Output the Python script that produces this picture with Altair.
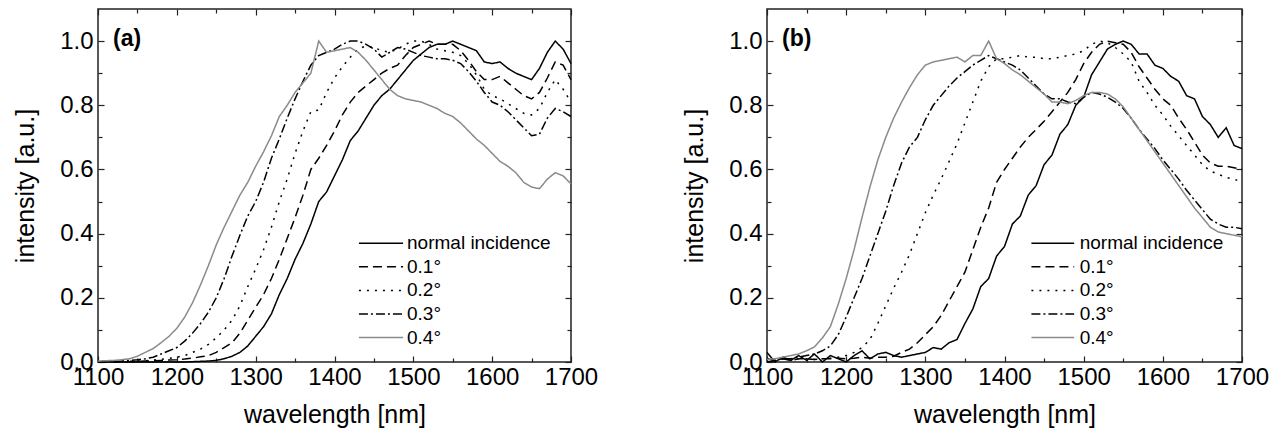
import altair as alt
import pandas as pd

WAVELENGTH = list(range(1100, 1701, 10))
SERIES = ["normal incidence", "0.1°", "0.2°", "0.3°", "0.4°"]

# ---------- panel (a) ----------
A_NORMAL = [0, 0, 0, 0, 0,
            0, 0, 0, 0, 0,
            0, 0, 0.001, 0.002, 0.003,
            0.005, 0.01, 0.018, 0.03, 0.05,
            0.08, 0.11, 0.15, 0.21, 0.26,
            0.32, 0.37, 0.43, 0.50, 0.53,
            0.58, 0.63, 0.69, 0.72, 0.76,
            0.80, 0.83, 0.85, 0.88, 0.91,
            0.94, 0.96, 0.98, 0.99, 0.99,
            1.00, 0.99, 0.98, 0.97, 0.935,
            0.93, 0.935, 0.915, 0.90, 0.89,
            0.88, 0.915, 0.965, 1.00, 0.975,
            0.93]
A_01 = [0, 0, 0, 0, 0.001,
        0.002, 0.003, 0.004, 0.005, 0.006,
        0.007, 0.009, 0.012, 0.016, 0.02,
        0.03, 0.045, 0.06, 0.09, 0.13,
        0.17, 0.21, 0.26, 0.32, 0.385,
        0.45, 0.52, 0.60, 0.635, 0.675,
        0.72, 0.77, 0.81, 0.84, 0.86,
        0.88, 0.90, 0.915, 0.925, 0.955,
        0.98, 0.99, 1.0, 0.99, 0.99,
        0.99, 0.97, 0.94, 0.905, 0.88,
        0.88, 0.89, 0.87, 0.85, 0.83,
        0.82, 0.84, 0.885, 0.935, 0.925,
        0.88]
A_02 = [0, 0, 0, 0.001, 0.002,
        0.003, 0.004, 0.006, 0.008, 0.011,
        0.015, 0.02, 0.03, 0.04, 0.055,
        0.075, 0.10, 0.13, 0.175, 0.235,
        0.29, 0.35, 0.42, 0.50, 0.57,
        0.65, 0.72, 0.78, 0.785, 0.84,
        0.885, 0.92, 0.95, 0.975, 0.985,
        0.98, 0.97, 0.965, 0.975, 0.99,
        1.0, 1.0, 0.99, 0.975, 0.97,
        0.965, 0.955, 0.93, 0.895, 0.85,
        0.83, 0.82, 0.805, 0.79, 0.775,
        0.77, 0.79, 0.84, 0.88, 0.85,
        0.81]
A_03 = [0, 0.001, 0.002, 0.003, 0.005,
        0.007, 0.01, 0.015, 0.025, 0.035,
        0.045, 0.065, 0.09, 0.12, 0.155,
        0.20, 0.26, 0.33, 0.395, 0.455,
        0.50, 0.56, 0.635, 0.695, 0.76,
        0.82, 0.875, 0.925, 0.955, 0.965,
        0.975, 0.99, 1.0, 1.0, 0.99,
        0.975, 0.95, 0.965, 0.98, 0.975,
        0.965, 0.955, 0.95, 0.945, 0.945,
        0.94, 0.93, 0.905, 0.875, 0.84,
        0.81, 0.80, 0.78, 0.755, 0.73,
        0.705, 0.71, 0.76, 0.79, 0.78,
        0.765]
A_04 = [0.003, 0.004, 0.005, 0.007, 0.01,
        0.018, 0.03, 0.042, 0.06, 0.08,
        0.105, 0.14, 0.185, 0.24, 0.30,
        0.365, 0.42, 0.47, 0.52, 0.56,
        0.61, 0.655, 0.705, 0.765, 0.80,
        0.84, 0.87, 0.90, 1.0, 0.965,
        0.97, 0.975, 0.98, 0.965, 0.94,
        0.91, 0.88, 0.85, 0.83, 0.82,
        0.815, 0.81, 0.80, 0.79, 0.775,
        0.765, 0.745, 0.72, 0.695, 0.675,
        0.65, 0.625, 0.61, 0.59, 0.56,
        0.545, 0.54, 0.57, 0.59, 0.58,
        0.555]

# ---------- panel (b) ----------
B_NORMAL = [0.03, 0.0, 0.015, 0.005, 0.02,
            0.005, 0.025, 0.0, 0.02, 0.01,
            0.0, 0.02, 0.035, 0.01, 0.025,
            0.03, 0.02, 0.015, 0.02, 0.025,
            0.03, 0.045, 0.04, 0.06, 0.07,
            0.12, 0.165, 0.235, 0.26, 0.33,
            0.36, 0.43, 0.455, 0.52, 0.55,
            0.615, 0.645, 0.71, 0.74, 0.80,
            0.825, 0.895, 0.935, 0.975, 0.99,
            1.0, 0.99, 0.96, 0.96, 0.925,
            0.915, 0.89, 0.875, 0.83, 0.82,
            0.765, 0.74, 0.70, 0.73, 0.675,
            0.665]
B_01 = [0.01, 0.005, 0.01, 0.005, 0.01,
        0.01, 0.008, 0.01, 0.01, 0.012,
        0.01, 0.012, 0.015, 0.012, 0.015,
        0.015, 0.018, 0.03, 0.04, 0.06,
        0.085, 0.11, 0.145, 0.19, 0.235,
        0.28, 0.35, 0.42, 0.48, 0.56,
        0.60, 0.635, 0.67, 0.70, 0.725,
        0.75, 0.78, 0.81, 0.84, 0.88,
        0.93, 0.965, 0.99, 1.0, 0.995,
        0.99, 0.965, 0.92, 0.885, 0.85,
        0.82, 0.80, 0.76, 0.725, 0.685,
        0.645, 0.62, 0.61, 0.61, 0.605,
        0.60]
B_02 = [0.01, 0.0, 0.01, 0.005, 0.01,
        0.01, 0.008, 0.01, 0.012, 0.015,
        0.02, 0.03, 0.045, 0.07, 0.12,
        0.175, 0.23, 0.28, 0.335, 0.40,
        0.465, 0.52, 0.57, 0.625, 0.68,
        0.745, 0.81, 0.875, 0.92, 0.945,
        0.945, 0.95, 0.955, 0.95, 0.95,
        0.945, 0.945, 0.95, 0.955, 0.96,
        0.97, 0.99, 1.0, 0.995, 0.98,
        0.96, 0.935, 0.875, 0.84, 0.80,
        0.77, 0.735, 0.705, 0.675, 0.645,
        0.615, 0.595, 0.585, 0.575, 0.57,
        0.56]
B_03 = [0.0, 0.005, 0.01, 0.01, 0.015,
        0.02, 0.025, 0.035, 0.05, 0.085,
        0.14, 0.20, 0.26, 0.33, 0.40,
        0.47, 0.55, 0.62, 0.67, 0.70,
        0.755, 0.80, 0.83, 0.86, 0.885,
        0.905, 0.925, 0.94, 0.955, 0.945,
        0.935, 0.925, 0.91, 0.885, 0.86,
        0.835, 0.82, 0.82, 0.81, 0.805,
        0.825, 0.84, 0.835, 0.825, 0.81,
        0.79, 0.76, 0.725, 0.695, 0.665,
        0.63, 0.60, 0.57, 0.535, 0.505,
        0.475, 0.445, 0.43, 0.42, 0.42,
        0.415]
B_04 = [0.008, 0.01, 0.015, 0.02, 0.025,
        0.035, 0.047, 0.075, 0.11, 0.18,
        0.26, 0.35, 0.45, 0.545, 0.63,
        0.70, 0.76, 0.81, 0.855, 0.895,
        0.925, 0.935, 0.94, 0.945, 0.95,
        0.935, 0.955, 0.955, 1.0, 0.945,
        0.93, 0.91, 0.895, 0.875, 0.855,
        0.835, 0.81, 0.81, 0.805, 0.815,
        0.83, 0.84, 0.84, 0.835, 0.82,
        0.795, 0.76, 0.725, 0.69, 0.655,
        0.62, 0.585, 0.55, 0.515, 0.48,
        0.45, 0.42, 0.405, 0.40, 0.395,
        0.39]

X_TICKS = [1100, 1200, 1300, 1400, 1500, 1600, 1700]
X_MINOR = [1150, 1250, 1350, 1450, 1550, 1650]
Y_TICKS = [0.0, 0.2, 0.4, 0.6, 0.8, 1.0]
Y_MINOR = [0.1, 0.3, 0.5, 0.7, 0.9]

# ---------- style ----------
FONT = "Liberation Sans"
H = 353
GRAY = "#8a8a8a"
COLORS = ["black", "black", "black", "black", GRAY]
DASHES = [[1, 0], [9, 5], [2, 6], [9, 3, 2, 3], [1, 0]]
FRAME = "#222222"


def panel(arrays, label, width, leg_x1, leg_x2, leg_xt):
    rows = []
    for s, vals in zip(SERIES, arrays):
        for w, v in zip(WAVELENGTH, vals):
            rows.append({"wl": w, "val": v, "series": s})
    df = pd.DataFrame(rows)

    xs = alt.Scale(domain=[1100, 1700], nice=False, zero=False)
    ys = alt.Scale(domain=[0, 1.1], nice=False)
    col = alt.Scale(domain=SERIES, range=COLORS)
    dash = alt.Scale(domain=SERIES, range=DASHES)

    lines = alt.Chart(df).mark_line(strokeWidth=1.5).encode(
        x=alt.X("wl:Q", scale=xs, axis=alt.Axis(
            values=X_TICKS, format="d", title="wavelength [nm]", labelFontSize=24,
            titleFontSize=25, titleFontWeight="normal", ticks=False,
            domain=False, grid=False, labelFlush=False, labelPadding=3,
            titlePadding=13, labelColor="black", titleColor="black",
            labelFont=FONT, titleFont=FONT)),
        y=alt.Y("val:Q", scale=ys, axis=alt.Axis(
            values=Y_TICKS, format=".1f", title="intensity [a.u.]",
            labelFontSize=24, titleFontSize=25, titleFontWeight="normal",
            ticks=False, domain=False, grid=False, labelPadding=5,
            titlePadding=21, labelColor="black", titleColor="black",
            labelFont=FONT, titleFont=FONT)),
        color=alt.Color("series:N", scale=col, legend=None),
        strokeDash=alt.StrokeDash("series:N", scale=dash, legend=None),
    )

    dummy = pd.DataFrame({"wl": [1100, 1700], "val": [0, 1.1]})

    def ticks(xorient, yorient, xvals, yvals, size):
        return alt.Chart(dummy).mark_point(opacity=0).encode(
            x=alt.X("wl:Q", scale=xs, axis=alt.Axis(
                orient=xorient, offset=-H, values=xvals, labels=False,
                title=None, domain=False, grid=False, ticks=True,
                tickSize=size, tickColor=FRAME, tickWidth=1.2)),
            y=alt.Y("val:Q", scale=ys, axis=alt.Axis(
                orient=yorient, offset=-width, values=yvals, labels=False,
                title=None, domain=False, grid=False, ticks=True,
                tickSize=size, tickColor=FRAME, tickWidth=1.2)),
        )

    t1 = ticks("top", "right", X_TICKS, Y_TICKS, 6)
    t2 = ticks("top", "right", X_MINOR, Y_MINOR, 4)
    t3 = ticks("bottom", "left", X_TICKS, Y_TICKS, 6)
    t4 = ticks("bottom", "left", X_MINOR, Y_MINOR, 4)

    leg_top = 0.37
    leg_step = 0.0735
    leg = pd.DataFrame({
        "series": SERIES,
        "x1": [leg_x1] * 5,
        "x2": [leg_x2] * 5,
        "xt": [leg_xt] * 5,
        "y": [leg_top - i * leg_step for i in range(5)],
    })
    leg_lines = alt.Chart(leg).mark_rule(strokeWidth=1.5).encode(
        x=alt.X("x1:Q", scale=xs, axis=None),
        x2="x2:Q",
        y=alt.Y("y:Q", scale=ys, axis=None),
        color=alt.Color("series:N", scale=col, legend=None),
        strokeDash=alt.StrokeDash("series:N", scale=dash, legend=None),
    )
    leg_text = alt.Chart(leg).mark_text(
        align="left", baseline="middle", fontSize=19, font=FONT, color="black"
    ).encode(
        x=alt.X("xt:Q", scale=xs, axis=None),
        y=alt.Y("y:Q", scale=ys, axis=None),
        text="series:N",
    )

    lab = pd.DataFrame({"t": [label], "x": [1119], "y": [1.005]})
    lab_text = alt.Chart(lab).mark_text(
        align="left", baseline="middle", fontSize=23, fontWeight="bold",
        font=FONT, color="black"
    ).encode(
        x=alt.X("x:Q", scale=xs, axis=None),
        y=alt.Y("y:Q", scale=ys, axis=None),
        text="t:N",
    )

    return alt.layer(lines, t1, t2, t3, t4, leg_lines, leg_text, lab_text).resolve_axis(
        x="independent", y="independent"
    ).properties(width=width, height=H)


pa = panel([A_NORMAL, A_01, A_02, A_03, A_04], "(a)", 473, 1431, 1487, 1492)
pb = panel([B_NORMAL, B_01, B_02, B_03, B_04], "(b)", 475, 1434, 1488, 1495)

chart = alt.hconcat(pa, pb, spacing=82).properties(
    padding={"left": 12, "top": 5, "right": 5, "bottom": 5}
).configure(font=FONT).configure_view(stroke=FRAME, strokeWidth=1.5)

chart.save("out.html", embed_options={"renderer": "svg", "actions": False})
